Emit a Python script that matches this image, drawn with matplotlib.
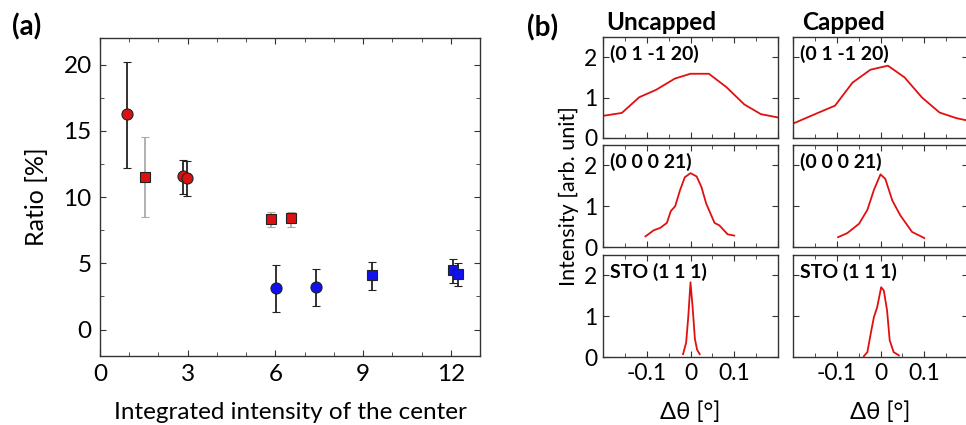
import numpy as np
import matplotlib.pyplot as plt
from matplotlib.ticker import MultipleLocator

plt.rcParams['font.family'] = ['Lato', 'DejaVu Sans']

# ---- panel (a) data ----
rc_x = [0.91, 2.84, 2.97]
rc_y = [16.3, 11.6, 11.45]
rc_lo = [12.2, 10.2, 10.1]
rc_hi = [20.2, 12.8, 12.7]

rs_x = [1.54, 5.86, 6.55]
rs_y = [11.5, 8.32, 8.4]
rs_lo = [8.5, 7.7, 7.75]
rs_hi = [14.5, 8.87, 8.9]

bc_x = [6.03, 7.38]
bc_y = [3.13, 3.23]
bc_lo = [1.3, 1.8]
bc_hi = [4.86, 4.6]

bs_x = [9.31, 12.08, 12.25]
bs_y = [4.08, 4.46, 4.2]
bs_lo = [2.95, 3.5, 3.26]
bs_hi = [5.13, 5.34, 5.0]

# ---- panel (b) data ----
u1_x = [-0.199, -0.157, -0.117, -0.079, -0.036, 0.0, 0.042, 0.082, 0.123, 0.161, 0.199]
u1_y = [0.55, 0.62, 1.01, 1.19, 1.47, 1.59, 1.59, 1.26, 0.83, 0.59, 0.51]
c1_x = [-0.197, -0.152, -0.104, -0.064, -0.023, 0.017, 0.055, 0.095, 0.135, 0.174, 0.2]
c1_y = [0.37, 0.58, 0.80, 1.37, 1.69, 1.79, 1.50, 1.00, 0.63, 0.49, 0.43]

u2_x = [-0.103, -0.084, -0.069, -0.054, -0.045, -0.035, -0.024, -0.013, 0.0, 0.014,
        0.025, 0.036, 0.055, 0.066, 0.085, 0.1]
u2_y = [0.26, 0.41, 0.47, 0.59, 0.88, 1.0, 1.39, 1.71, 1.81, 1.73, 1.47, 1.06, 0.59,
        0.53, 0.31, 0.28]
c2_x = [-0.097, -0.076, -0.049, -0.030, -0.015, 0.0, 0.011, 0.027, 0.045, 0.072, 0.1]
c2_y = [0.24, 0.34, 0.57, 0.91, 1.40, 1.78, 1.67, 1.14, 0.78, 0.37, 0.22]

u3_x = [-0.017, -0.01, -0.005, 0.0, 0.005, 0.01, 0.015, 0.021]
u3_y = [0.07, 0.35, 1.0, 1.83, 1.2, 0.45, 0.18, 0.07]
c3_x = [-0.038, -0.030, -0.021, -0.015, -0.0076, 0.0015, 0.0076, 0.015, 0.021, 0.030, 0.042]
c3_y = [0.02, 0.12, 0.65, 0.98, 1.22, 1.71, 1.63, 1.14, 0.41, 0.12, 0.04]

row_labels = ['(0 1 -1 20)', '(0 0 0 21)', 'STO (1 1 1)']
col_titles = ['Uncapped', 'Capped']

W, H = 966, 425
fig = plt.figure(figsize=(W / 100, H / 100), dpi=100)

def box(l, t, r, b):
    return [l / W, 1 - b / H, (r - l) / W, (b - t) / H]

spine_c = '#333333'

def style(ax):
    for s in ax.spines.values():
        s.set_color(spine_c)
        s.set_linewidth(1.0)
    ax.tick_params(which='both', direction='in', top=True, right=True, color=spine_c)
    ax.tick_params(which='major', length=4)
    ax.tick_params(which='minor', length=3)

# ---- (a) ----
ax = fig.add_axes(box(100, 38, 480, 356))
style(ax)

def eb(x, y, lo, hi, ecol, fc, mk, ms):
    y = np.array(y)
    yerr = [y - np.array(lo), np.array(hi) - y]
    ax.errorbar(x, y, yerr=yerr, fmt=mk, ms=ms, mfc=fc, mec='#222222', mew=0.8,
                ecolor=ecol, elinewidth=1.3, capsize=3, capthick=1.3, zorder=3)

eb(rs_x, rs_y, rs_lo, rs_hi, '#aaaaaa', '#dd1111', 's', 6.5)
eb(rc_x, rc_y, rc_lo, rc_hi, '#222222', '#dd1111', 'o', 8)
eb(bc_x, bc_y, bc_lo, bc_hi, '#222222', '#1111ee', 'o', 8)
eb(bs_x, bs_y, bs_lo, bs_hi, '#222222', '#1111ee', 's', 6.5)

ax.set_xlim(0, 13)
ax.set_ylim(-2, 22)
ax.xaxis.set_major_locator(MultipleLocator(3))
ax.xaxis.set_minor_locator(MultipleLocator(1))
ax.yaxis.set_major_locator(MultipleLocator(5))
ax.yaxis.set_minor_locator(MultipleLocator(2.5))
ax.tick_params(labelsize=17.5, pad=6)
ax.set_xlabel('Integrated intensity of the center', fontsize=17.5, labelpad=12)
ax.set_ylabel('Ratio [%]', fontsize=18, labelpad=11)
fig.text(12 / W, 1 - 27 / H, '(a)', fontsize=20, fontweight='bold', va='center')

# ---- (b) ----
cols = [(603, 778), (793, 968)]
rows = [(37, 138), (145, 247), (255, 357)]
curves = [[(u1_x, u1_y), (c1_x, c1_y)],
          [(u2_x, u2_y), (c2_x, c2_y)],
          [(u3_x, u3_y), (c3_x, c3_y)]]

for i, (t, b) in enumerate(rows):
    for j, (l, r) in enumerate(cols):
        a = fig.add_axes(box(l, t, r, b))
        style(a)
        cx, cy = curves[i][j]
        a.plot(cx, cy, color='#e01010', lw=1.3)
        a.set_xlim(-0.2, 0.2)
        a.set_ylim(0, 2.5)
        a.xaxis.set_major_locator(MultipleLocator(0.1))
        a.xaxis.set_minor_locator(MultipleLocator(0.05))
        a.yaxis.set_major_locator(MultipleLocator(1))
        a.tick_params(labelsize=16.5, pad=4)
        a.text(0.04, 0.83, row_labels[i], transform=a.transAxes, fontsize=14,
               fontweight='bold', va='center', ha='left')
        if j > 0:
            a.set_yticklabels([])
        if i < 2:
            a.set_xticklabels([])
        else:
            a.set_xticks([-0.1, 0, 0.1])
            a.set_xticklabels(['-0.1', '0', '0.1'])
            a.set_xlabel('Δθ [°]', fontsize=17, labelpad=13)
        if i == 0:
            a.set_title(col_titles[j], fontsize=17.5, fontweight='bold', loc='left',
                        x=0.02 if j == 0 else 0.05, pad=5)
        if i == 1 and j == 0:
            a.set_ylabel('Intensity [arb. unit]', fontsize=15.5, labelpad=4)

fig.text(527 / W, 1 - 28 / H, '(b)', fontsize=20, fontweight='bold', va='center')

fig.savefig('out.png', dpi=100)
